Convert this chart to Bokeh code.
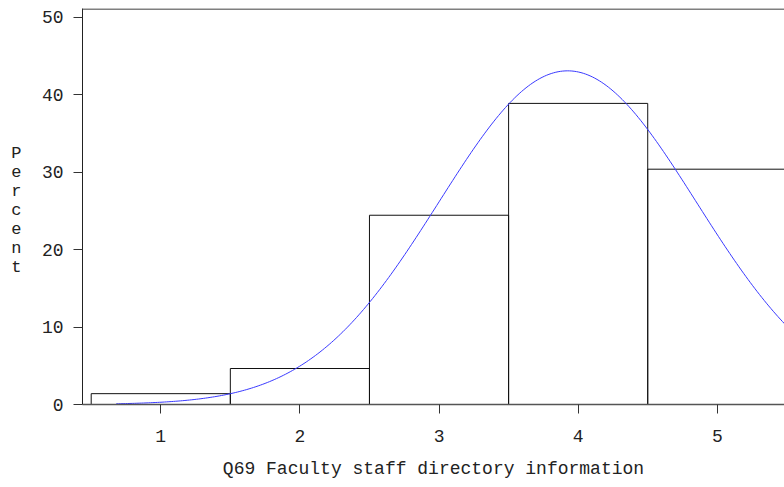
import numpy as np
from bokeh.plotting import figure
from bokeh.models import FixedTicker, Range1d, Span, LinearAxis
from bokeh.embed import file_html
from bokeh.resources import INLINE

# Data
categories = [1, 2, 3, 4, 5]
percent = [1.4, 4.65, 24.45, 38.9, 30.4]
x_ticks = [1, 2, 3, 4, 5]
y_ticks = [0, 10, 20, 30, 40, 50]
x_title = "Q69 Faculty staff directory information"
y_title = "Percent"

# fitted normal curve (from the binned data, scaled to percent per bin of width 1)
cats = np.array(categories, dtype=float)
w = np.array(percent) / np.sum(percent)
mu = float(np.sum(cats * w))
sigma = float(np.sqrt(np.sum(w * (cats - mu) ** 2)))
xc = np.linspace(0.68, 5.6, 300)
yc = 100.0 / (sigma * np.sqrt(2 * np.pi)) * np.exp(-0.5 * ((xc - mu) / sigma) ** 2)

FONT = "Liberation Mono"

p = figure(width=784, height=487, output_backend="svg", toolbar_location=None,
           title=None, x_range=Range1d(0.4375, 5.483), y_range=Range1d(0, 51.16),
           min_border_left=82, min_border_right=0, min_border_top=8, min_border_bottom=83)
p.outline_line_color = None
p.grid.visible = False
p.background_fill_color = "white"
p.border_fill_color = "white"

p.quad(left=[c - 0.5 for c in categories], right=[c + 0.5 for c in categories],
       bottom=0, top=percent, fill_color=None, line_color="#111111", line_width=1)
p.line(xc, yc, line_color="#3a3aff", line_width=1)

p.add_layout(Span(location=51.1, dimension="width", line_color="#555555", line_width=1.5))

for ax in (p.xaxis[0], p.yaxis[0]):
    ax.major_tick_in = 0
    ax.major_tick_out = 9
    ax.minor_tick_line_color = None
    ax.major_label_text_font = FONT
    ax.major_label_text_font_size = "18px"
    ax.major_label_text_color = "#222222"
    ax.axis_line_color = "#222222"
    ax.major_tick_line_color = "#333333"

p.xaxis.ticker = FixedTicker(ticks=x_ticks)
p.yaxis.ticker = FixedTicker(ticks=y_ticks)
p.xaxis.axis_line_color = "#555555"
p.xaxis.axis_line_width = 1.5
p.xaxis.major_label_standoff = 16
p.yaxis.major_label_standoff = 10

p.xaxis.axis_label = x_title
p.xaxis.axis_label_text_font = FONT
p.xaxis.axis_label_text_font_size = "18px"
p.xaxis.axis_label_text_font_style = "normal"
p.xaxis.axis_label_text_color = "#222222"
p.xaxis.axis_label_standoff = 14

# stacked-letter y-axis title, drawn as the single label of an outer, line-less axis
title_axis = LinearAxis(ticker=FixedTicker(ticks=[25]),
                        major_label_overrides={25: "\n".join(y_title)},
                        axis_line_color=None, major_tick_line_color=None,
                        minor_tick_line_color=None, major_tick_out=0, major_tick_in=0,
                        major_label_orientation="horizontal", major_label_standoff=17,
                        major_label_text_font=FONT, major_label_text_font_size="17px",
                        major_label_text_color="#222222", major_label_text_line_height=1.0)
p.add_layout(title_axis, "left")

open("out.html", "w").write(file_html(p, INLINE))
